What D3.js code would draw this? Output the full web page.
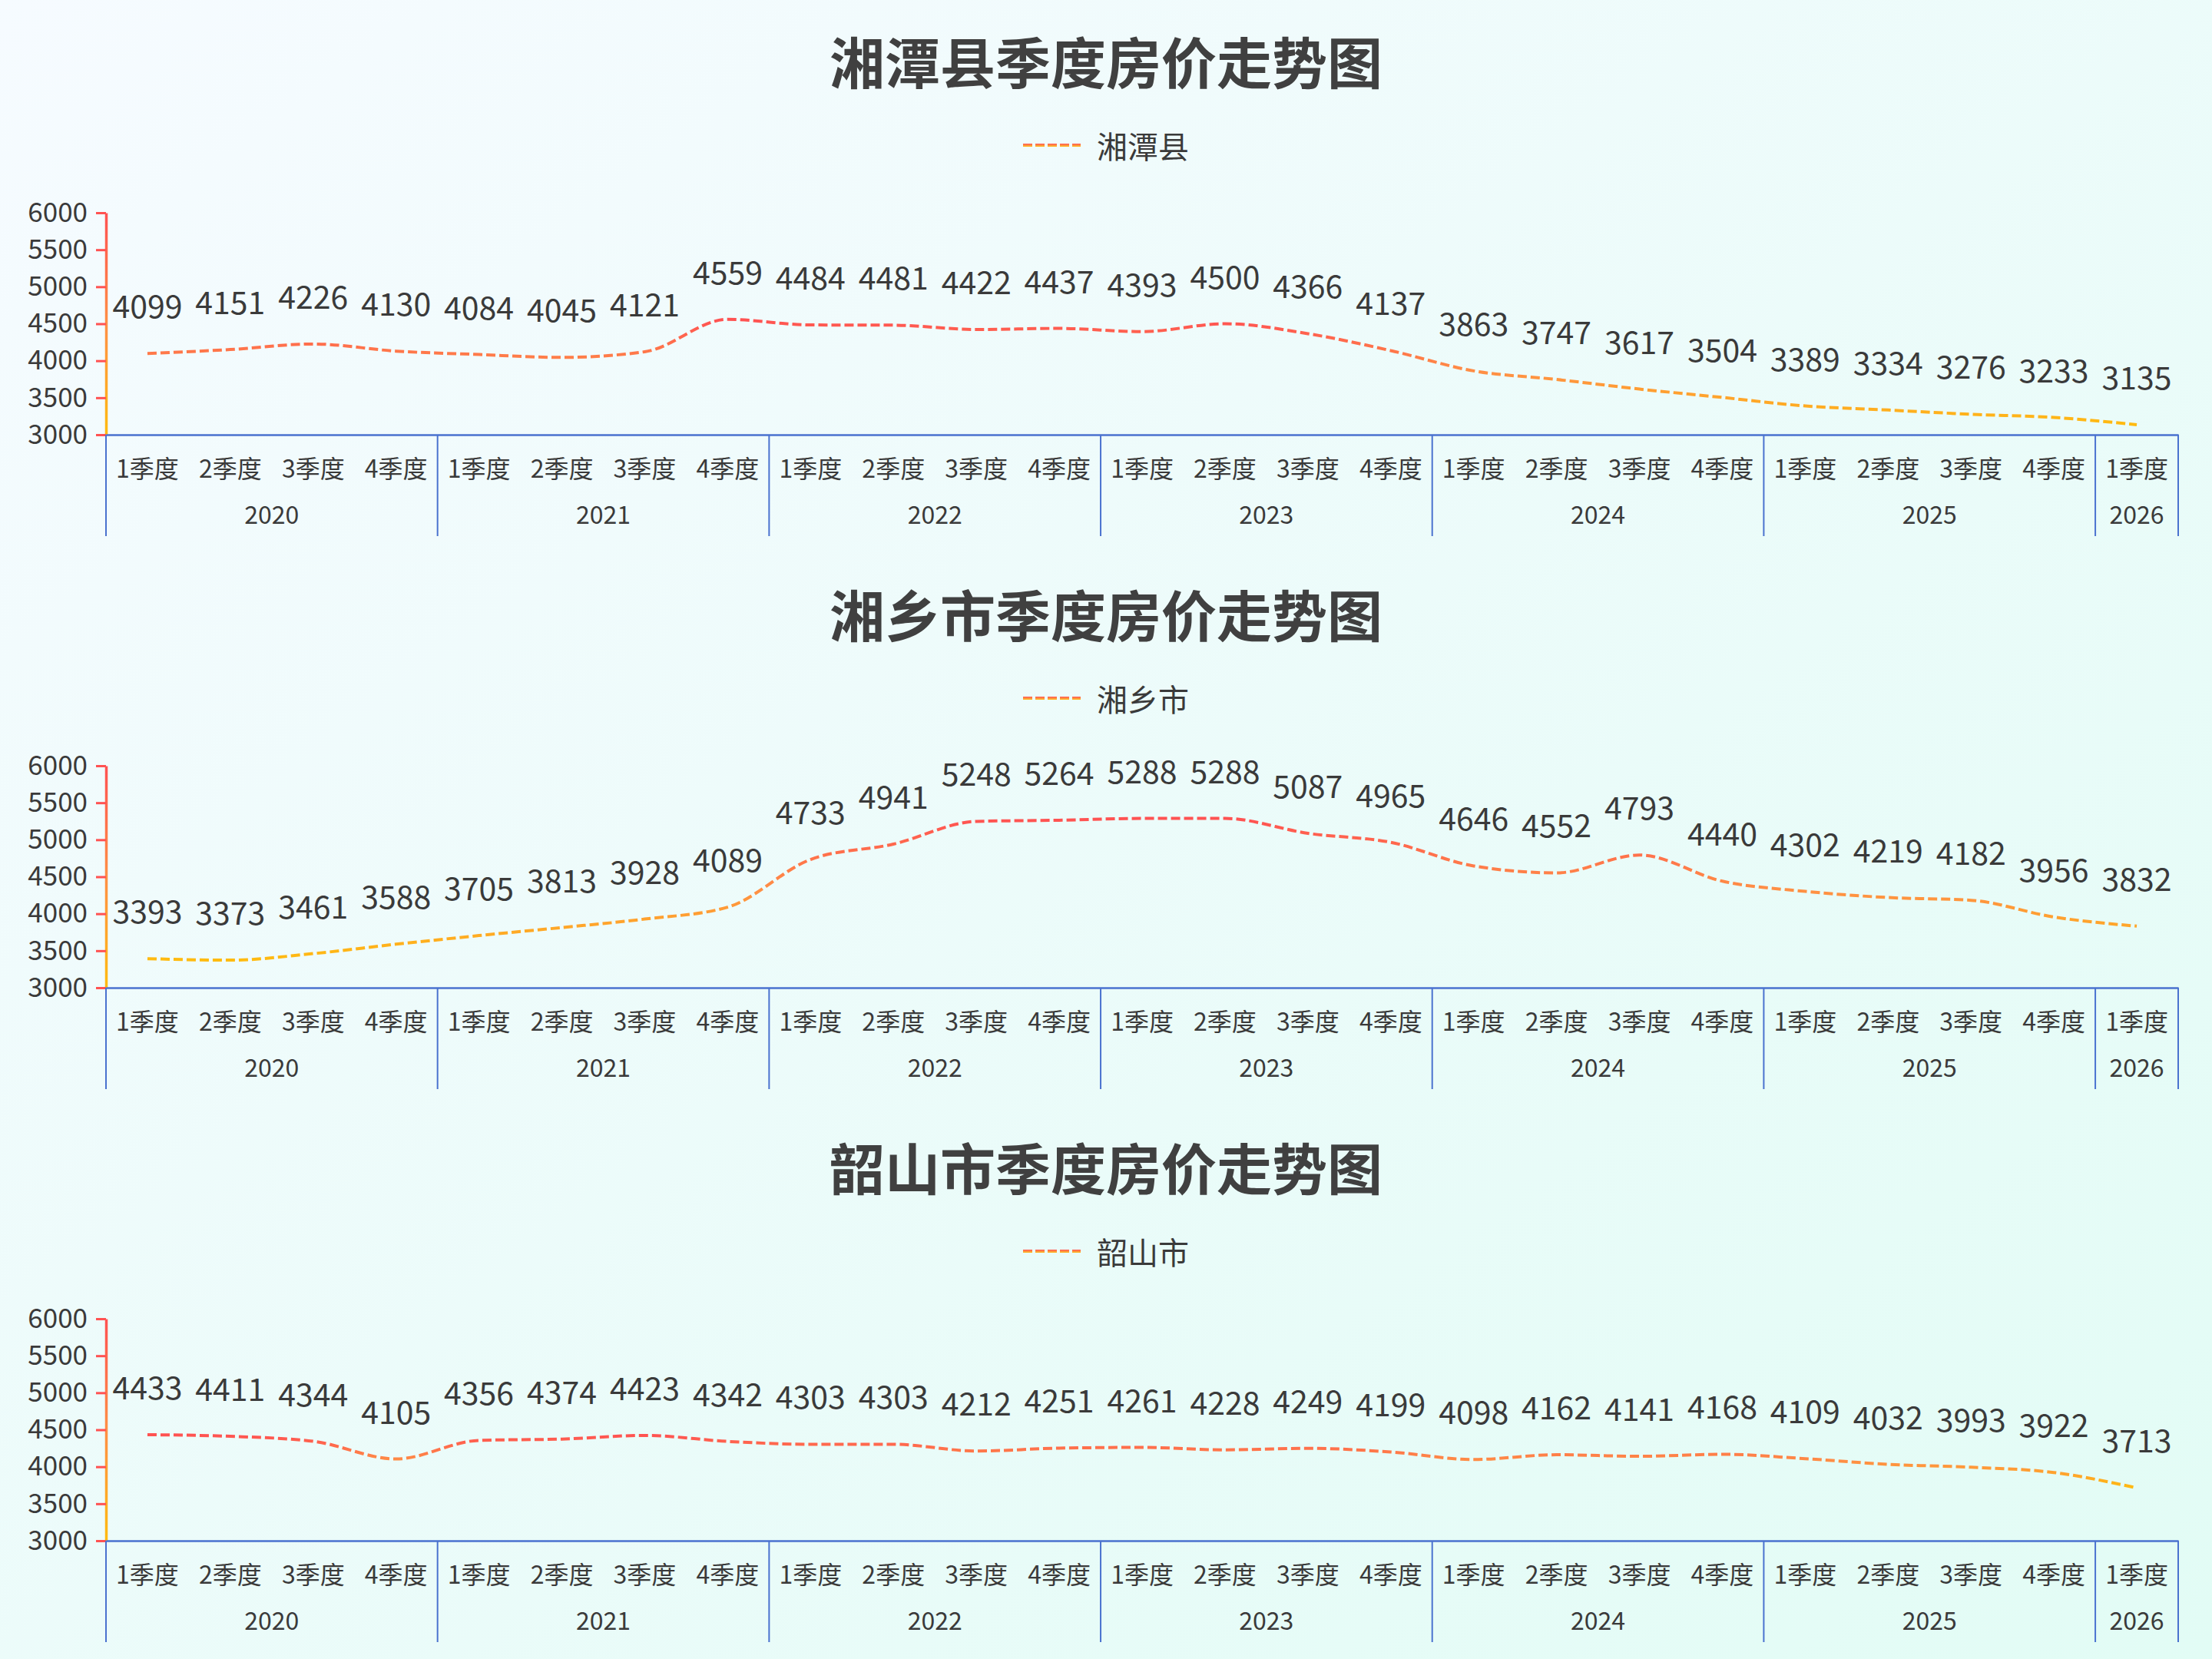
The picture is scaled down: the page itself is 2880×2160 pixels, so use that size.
<!DOCTYPE html>
<html>
<head>
<meta charset="utf-8">
<script src="https://cdn.jsdelivr.net/npm/d3@7"></script>
<style>
  html, body { margin: 0; padding: 0; }
  body { width: 2880px; height: 2160px; overflow: hidden; }
  text { font-family: "Noto Sans CJK SC", "Noto Sans", sans-serif; }
</style>
</head>
<body>
<svg id="chart" width="2880" height="2160"></svg>
<script>
// quarter / year categories (2020Q1 .. 2026Q1)
const quarterLabels = [
  '1季度','2季度','3季度','4季度', '1季度','2季度','3季度','4季度',
  '1季度','2季度','3季度','4季度', '1季度','2季度','3季度','4季度',
  '1季度','2季度','3季度','4季度', '1季度','2季度','3季度','4季度',
  '1季度'
]
const yearLabels = [
  '2020','2020','2020','2020', '2021','2021','2021','2021',
  '2022','2022','2022','2022', '2023','2023','2023','2023',
  '2024','2024','2024','2024', '2025','2025','2025','2025',
  '2026'
]
const yTicks = [3000, 3500, 4000, 4500, 5000, 5500, 6000]

const names = ['湘潭县', '湘乡市', '韶山市']
const titles = ['湘潭县季度房价走势图', '湘乡市季度房价走势图', '韶山市季度房价走势图']

const xiangtanValues = [4099, 4151, 4226, 4130, 4084, 4045, 4121, 4559, 4484, 4481, 4422, 4437,
  4393, 4500, 4366, 4137, 3863, 3747, 3617, 3504, 3389, 3334, 3276, 3233, 3135]
const xiangxiangValues = [3393, 3373, 3461, 3588, 3705, 3813, 3928, 4089, 4733, 4941, 5248, 5264,
  5288, 5288, 5087, 4965, 4646, 4552, 4793, 4440, 4302, 4219, 4182, 3956, 3832]
const shaoshanValues = [4433, 4411, 4344, 4105, 4356, 4374, 4423, 4342, 4303, 4303, 4212, 4251,
  4261, 4228, 4249, 4199, 4098, 4162, 4141, 4168, 4109, 4032, 3993, 3922, 3713]

const seriesValues = [xiangtanValues, xiangxiangValues, shaoshanValues]

const W = 2880
const panelH = 720
const margin = { left: 138, right: 44, top: 277 }
const textColor = '#3a3a3a'
const axisBlue = '#4a72cf'
const fontStack = '"Noto Sans CJK SC", "Noto Sans", sans-serif'
const gradStops = [
  { offset: '0%', color: '#ff5252' },
  { offset: '50%', color: '#ff8f45' },
  { offset: '100%', color: '#ffbb10' }
]

const svg = d3.select('#chart')
const defs = svg.append('defs')

const bg = defs.append('linearGradient').attr('id', 'bg')
  .attr('x1', 0).attr('y1', 0).attr('x2', 1).attr('y2', 1)
bg.append('stop').attr('offset', '0%').attr('stop-color', '#f6fbff')
bg.append('stop').attr('offset', '100%').attr('stop-color', '#e2fcf5')
svg.append('rect').attr('width', W).attr('height', 2160).attr('fill', 'url(#bg)')

// vertical gradient in the user space of the panel group
const makeGradient = (id, y1, y2) => {
  const g = defs.append('linearGradient').attr('id', id)
    .attr('gradientUnits', 'userSpaceOnUse')
    .attr('x1', 0).attr('x2', 0).attr('y1', y1).attr('y2', y2)
  g.selectAll('stop').data(gradStops).join('stop')
    .attr('offset', d => d.offset).attr('stop-color', d => d.color)
  return 'url(#' + id + ')'
}

const x = d3.scaleBand()
  .domain(d3.range(quarterLabels.length))
  .range([margin.left, W - margin.right])

const years = Array.from(new Set(yearLabels))
const yearSpans = years.map(yr => {
  const idx = yearLabels.map((d, i) => d === yr ? i : -1).filter(i => i >= 0)
  return { year: yr, x0: x(d3.min(idx)), x1: x(d3.max(idx)) + x.bandwidth() }
})

const drawPanel = (k) => {
  const oy = k * panelH
  const values = seriesValues[k]
  const g = svg.append('g').attr('transform', 'translate(0,' + oy + ')')
  const y = d3.scaleLinear().domain([3000, 6000]).range([566, margin.top])

  // title
  g.append('text')
    .attr('x', W / 2).attr('y', 77)
    .attr('text-anchor', 'middle').attr('dominant-baseline', 'central')
    .attr('font-size', 72).attr('font-weight', 'bold')
    .attr('fill', '#404040')
    .text(titles[k])

  // legend
  const legendStroke = makeGradient('leg' + k, 187, 191)
  g.append('line')
    .attr('x1', 1332).attr('x2', 1407).attr('y1', 189).attr('y2', 189)
    .attr('stroke', legendStroke).attr('stroke-width', 4)
    .attr('stroke-dasharray', '12 4')
  g.append('text')
    .attr('x', 1428).attr('y', 189)
    .attr('dominant-baseline', 'central')
    .attr('font-size', 40).attr('fill', textColor)
    .text(names[k])

  // y axis
  const axisStroke = makeGradient('ax' + k, y(6000), y(3000))
  const yAxis = g.append('g')
    .attr('transform', 'translate(' + margin.left + ',0)')
    .call(d3.axisLeft(y).tickValues(yTicks).tickFormat(d => d)
      .tickSize(13).tickSizeOuter(0).tickPadding(11))
  yAxis.select('.domain').attr('stroke', axisStroke).attr('stroke-width', 3.5)
  yAxis.selectAll('.tick line').attr('stroke', axisStroke).attr('stroke-width', 3)
  yAxis.selectAll('.tick text')
    .attr('font-size', 35).attr('fill', textColor)
    .style('font-family', fontStack)

  // x axis (quarters)
  const xAxis = g.append('g')
    .attr('transform', 'translate(0,' + y(3000) + ')')
    .call(d3.axisBottom(x).tickSize(0).tickSizeOuter(0).tickPadding(0).tickFormat(i => quarterLabels[i]))
  xAxis.select('.domain').attr('stroke', axisBlue).attr('stroke-width', 2.5)
  xAxis.selectAll('.tick text')
    .attr('y', 42).attr('dy', null)
    .attr('dominant-baseline', 'central')
    .attr('font-size', 32).attr('fill', textColor)
    .style('font-family', fontStack)

  // year separators and labels
  const bounds = [yearSpans[0].x0].concat(yearSpans.map(d => d.x1))
  g.append('g').selectAll('line')
    .data(bounds)
    .join('line')
    .attr('x1', d => d).attr('x2', d => d)
    .attr('y1', y(3000)).attr('y2', y(3000) + 132)
    .attr('stroke', axisBlue).attr('stroke-width', 2)
  g.append('g').selectAll('text')
    .data(yearSpans)
    .join('text')
    .attr('x', d => (d.x0 + d.x1) / 2)
    .attr('y', y(3000) + 102)
    .attr('text-anchor', 'middle').attr('dominant-baseline', 'central')
    .attr('font-size', 32).attr('fill', textColor)
    .text(d => d.year)

  // line
  const lineStroke = makeGradient('ln' + k, y(d3.max(values)), y(d3.min(values)))
  const line = d3.line()
    .x((d, i) => x(i) + x.bandwidth() / 2)
    .y(d => y(d))
    .curve(d3.curveMonotoneX)
  g.append('path')
    .datum(values)
    .attr('d', line)
    .attr('fill', 'none')
    .attr('stroke', lineStroke)
    .attr('stroke-width', 4)
    .attr('stroke-dasharray', '12 5')

  // value labels
  g.append('g').selectAll('text')
    .data(values)
    .join('text')
    .attr('x', (d, i) => x(i) + x.bandwidth() / 2)
    .attr('y', d => y(d) - 46)
    .attr('text-anchor', 'middle')
    .attr('font-size', 41).attr('fill', textColor)
    .text(d => d)
}

d3.range(3).forEach(drawPanel)
</script>
</body>
</html>
